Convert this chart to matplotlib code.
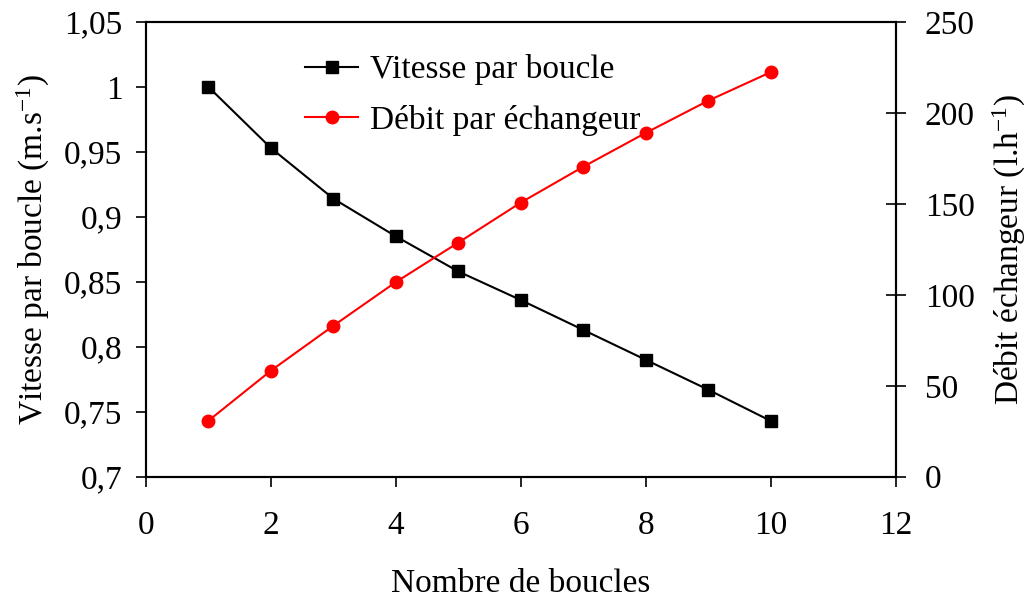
import matplotlib
matplotlib.use("Agg")
import matplotlib.pyplot as plt
from matplotlib.ticker import FuncFormatter

plt.rcParams['font.family'] = ['Liberation Serif', 'DejaVu Serif']
plt.rcParams['mathtext.fontset'] = 'custom'
plt.rcParams['mathtext.rm'] = 'Liberation Serif'
plt.rcParams['mathtext.it'] = 'Liberation Serif'
plt.rcParams['mathtext.default'] = 'regular'

# Data
boucles = [1, 2, 3, 4, 5, 6, 7, 8, 9, 10]
vitesse = [1.000, 0.953, 0.914, 0.885, 0.858, 0.836, 0.813, 0.790, 0.767, 0.743]
debit = [30.8, 58.3, 83.0, 107.0, 128.7, 150.7, 170.4, 189.0, 206.7, 222.4]

xticks = [0, 2, 4, 6, 8, 10, 12]
yticks_left = [0.7, 0.75, 0.8, 0.85, 0.9, 0.95, 1.0, 1.05]
yticks_right = [0, 50, 100, 150, 200, 250]

W, H = 1028, 597
fig = plt.figure(figsize=(W / 100, H / 100), dpi=100)
left, right, top, bottom = 146, 895.5, 22, 476.7
ax = fig.add_axes([left / W, 1 - bottom / H, (right - left) / W, (bottom - top) / H])
ax2 = ax.twinx()

fs = 24

l1, = ax.plot(boucles, vitesse, color='black', lw=1.5, marker='s', ms=8.5,
              markerfacecolor='black', markeredgecolor='black', label='Vitesse par boucle')
l2, = ax2.plot(boucles, debit, color='#ff0000', lw=1.5, marker='o', ms=9,
               markerfacecolor='#ff0000', markeredgecolor='#ff0000', label='Débit par échangeur')

ax.set_xlim(0, 12)
ax.set_ylim(0.7, 1.05)
ax2.set_ylim(0, 250)
ax.set_xticks(xticks)
ax.set_yticks(yticks_left)
ax2.set_yticks(yticks_right)

def fmt_left(v, pos):
    s = ('%.2f' % v).rstrip('0').rstrip('.')
    return s.replace('.', ',')

ax.yaxis.set_major_formatter(FuncFormatter(fmt_left))

for a in (ax, ax2):
    for sp in a.spines.values():
        sp.set_linewidth(1.5)
        sp.set_color('black')

ax.tick_params(axis='x', direction='out', length=7, width=1.2, labelsize=fs, pad=17)
ax.tick_params(axis='y', direction='out', length=7, width=1.2, labelsize=fs, pad=10)
ax2.tick_params(axis='y', direction='inout', length=14, width=1.2, labelsize=fs, pad=14)

ax.set_xlabel('Nombre de boucles', fontsize=fs, labelpad=20)
ax.set_ylabel('Vitesse par boucle (m.s$^{-1}$)', fontsize=fs, labelpad=9)
ax2.set_ylabel('Débit échangeur (l.h$^{-1}$)', fontsize=fs, labelpad=12)

leg = ax.legend([l1, l2], ['Vitesse par boucle', 'Débit par échangeur'],
                loc='upper left', bbox_to_anchor=(0.172, 0.995), frameon=False,
                fontsize=fs, handlelength=1.6, handletextpad=0.35, labelspacing=0.58)

fig.savefig('out.png', dpi=100)
